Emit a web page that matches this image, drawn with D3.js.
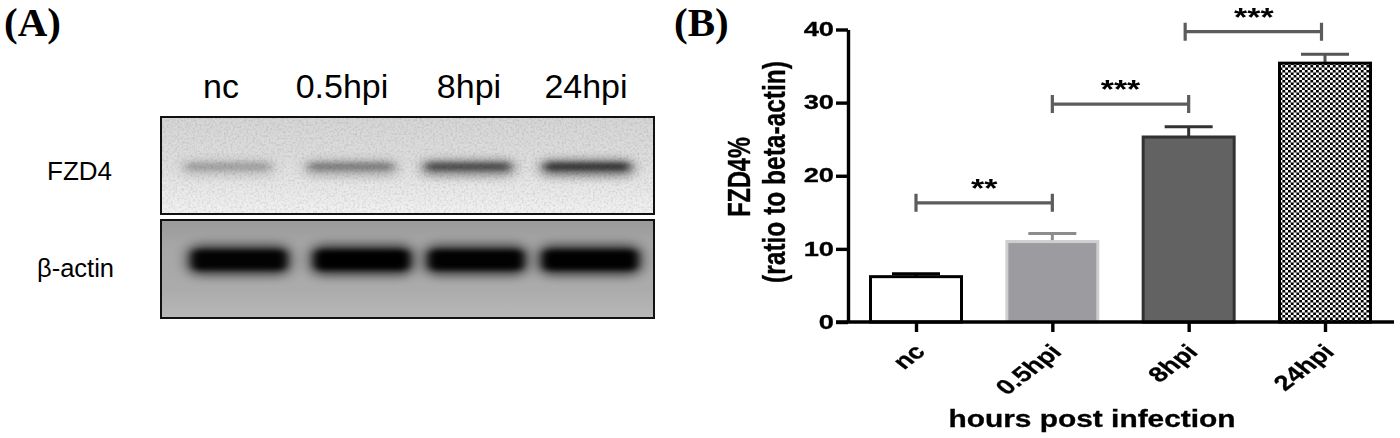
<!DOCTYPE html>
<html lang="en">
<head>
<meta charset="utf-8">
<title>FZD4 western blot and quantification</title>
<style>
  html,body { margin:0; padding:0; overflow:hidden; background:#fff; }
  svg { display:block; }
  text { font-family:"Liberation Sans",Arial,sans-serif; fill:#000; }
  .panel-tag { font-family:"Liberation Serif",serif; font-weight:bold; font-size:41px; }
  .heavy, .axis text { font-weight:bold; stroke:#000; stroke-width:0.3px; }
  .axis path, .axis line { stroke:#000; stroke-width:3.4px; }
</style>
<script src="https://d3js.org/d3.v7.min.js"></script>
</head>
<body>
<svg width="1400" height="438"></svg>
<script>
// data
const lanes = ["nc", "0.5hpi", "8hpi", "24hpi"];
const fzd4Band = [0.26, 0.42, 0.72, 0.88];   // band darkness, upper blot
const actinBand = [0.95, 1, 0.97, 0.98];     // band darkness, lower blot

const means = [6.2, 11.0, 25.3, 35.4];
const errors = [0.4, 1.1, 1.4, 1.2];
const yTicks = [0, 10, 20, 30, 40];
const brackets = [
  { from: 0, to: 1, level: 16.3, label: "**" },
  { from: 1, to: 2, level: 29.8, label: "***" },
  { from: 2, to: 3, level: 39.7, label: "***" }
];

const svg = d3.select("svg");
const defs = svg.append("defs");

// panel B in the figure is stretched sideways, so its text is too
const stretch = 1.3;

// ---- filters, gradients, pattern
function blur(id, sd) {
  defs.append("filter").attr("id", id)
      .attr("x", "-30%").attr("y", "-100%").attr("width", "160%").attr("height", "300%")
    .append("feGaussianBlur").attr("stdDeviation", sd);
}
blur("soft", "7 5");
blur("tight", "4 2.4");

defs.append("filter").attr("id", "aa")
    .attr("filterUnits", "userSpaceOnUse")
    .attr("x", 0).attr("y", 0).attr("width", 1400).attr("height", 438)
  .append("feGaussianBlur").attr("stdDeviation", 0.45);

const grain = defs.append("filter").attr("id", "grain")
    .attr("x", 0).attr("y", 0).attr("width", "100%").attr("height", "100%");
grain.append("feTurbulence").attr("type", "fractalNoise").attr("baseFrequency", 0.45)
    .attr("numOctaves", 2).attr("seed", 4);
grain.append("feColorMatrix").attr("type", "matrix")
    .attr("values", "0 0 0 0 0  0 0 0 0 0  0 0 0 0 0  1.2 0 0 0 -0.5");

function gradient(id, stops) {
  defs.append("linearGradient").attr("id", id)
      .attr("x1", 0).attr("y1", 0).attr("x2", 0).attr("y2", 1)
    .selectAll("stop").data(stops).join("stop")
      .attr("offset", d => d[0]).attr("stop-color", d => d[1]);
}
gradient("topBg", [[0, "#d6d6d6"], [0.45, "#dedede"], [1, "#f2f2f2"]]);
gradient("lowBg", [[0, "#999999"], [0.25, "#a6a6a6"], [0.7, "#ababab"], [1, "#b8b8b8"]]);

const checker = defs.append("pattern").attr("id", "checker")
    .attr("width", 5.6).attr("height", 5).attr("patternUnits", "userSpaceOnUse");
checker.append("rect").attr("width", 5.6).attr("height", 5).attr("fill", "#fff");
checker.append("rect").attr("width", 2.8).attr("height", 2.5).attr("fill", "#000");
checker.append("rect").attr("x", 2.8).attr("y", 2.5).attr("width", 2.8).attr("height", 2.5).attr("fill", "#000");

// ---- panel tags
svg.append("text").attr("class", "panel-tag").attr("x", 4).attr("y", 36).text("(A)");
svg.append("text").attr("class", "panel-tag").attr("x", 674).attr("y", 36).text("(B)");

// ---- panel A, blots
const headerX = d3.scaleOrdinal().domain(lanes).range([221, 342, 469, 586]);
const topX = d3.scaleOrdinal().domain(lanes).range([228, 351, 468, 587]);
const lowX = d3.scaleOrdinal().domain(lanes).range([239, 362, 476, 590]);

svg.append("g").selectAll("text").data(lanes).join("text")
    .attr("x", d => headerX(d)).attr("y", 98)
    .attr("text-anchor", "middle").attr("font-size", 34).text(d => d);

svg.append("text").attr("x", 47).attr("y", 180).attr("font-size", 26).text("FZD4");
svg.append("text").attr("x", 37).attr("y", 277).attr("font-size", 25.5).text("β-actin");

const blotLeft = 161, blotWidth = 493;

// upper blot
const topClip = defs.append("clipPath").attr("id", "topClip");
topClip.append("rect").attr("x", blotLeft).attr("y", 117).attr("width", blotWidth).attr("height", 97);
const upper = svg.append("g").attr("clip-path", "url(#topClip)");
upper.append("rect").attr("x", blotLeft).attr("y", 117).attr("width", blotWidth).attr("height", 97)
    .attr("fill", "url(#topBg)");
upper.append("g").selectAll("rect").data(lanes).join("rect")
    .attr("x", d => topX(d) - 46).attr("y", 160)
    .attr("width", 92).attr("height", 16).attr("rx", 7)
    .attr("fill", "#000")
    .attr("opacity", (d, i) => fzd4Band[i] * 0.55)
    .attr("filter", "url(#soft)");
upper.append("g").selectAll("rect").data(lanes).join("rect")
    .attr("x", d => topX(d) - 42).attr("y", 163)
    .attr("width", 84).attr("height", 7).attr("rx", 3)
    .attr("fill", "#000")
    .attr("opacity", (d, i) => fzd4Band[i] * 0.65)
    .attr("filter", "url(#tight)");
upper.append("rect").attr("x", blotLeft).attr("y", 117).attr("width", blotWidth).attr("height", 97)
    .attr("filter", "url(#grain)").attr("opacity", 0.2);
svg.append("rect").attr("x", blotLeft).attr("y", 117).attr("width", blotWidth).attr("height", 97)
    .attr("fill", "none").attr("stroke", "#111").attr("stroke-width", 2);

// lower blot
const lowClip = defs.append("clipPath").attr("id", "lowClip");
lowClip.append("rect").attr("x", blotLeft).attr("y", 220).attr("width", blotWidth).attr("height", 98);
const lower = svg.append("g").attr("clip-path", "url(#lowClip)");
lower.append("rect").attr("x", blotLeft).attr("y", 220).attr("width", blotWidth).attr("height", 98)
    .attr("fill", "url(#lowBg)");
lower.append("g").selectAll("rect").data(lanes).join("rect")
    .attr("x", d => lowX(d) - 52).attr("y", 244)
    .attr("width", 104).attr("height", 32).attr("rx", 12)
    .attr("fill", "#000")
    .attr("opacity", (d, i) => actinBand[i] * 0.6)
    .attr("filter", "url(#soft)");
lower.append("g").selectAll("rect").data(lanes).join("rect")
    .attr("x", d => lowX(d) - 47).attr("y", 250)
    .attr("width", 94).attr("height", 20).attr("rx", 6)
    .attr("fill", "#000")
    .attr("opacity", (d, i) => actinBand[i])
    .attr("filter", "url(#tight)");
svg.append("rect").attr("x", blotLeft).attr("y", 220).attr("width", blotWidth).attr("height", 98)
    .attr("fill", "none").attr("stroke", "#111").attr("stroke-width", 2);

// ---- panel B, bars
const y = d3.scaleLinear().domain([0, 40]).range([322, 29.5]);
const x = d3.scalePoint().domain(lanes).range([916, 1325]);
const barWidth = 91;

const barStyles = [
  { fill: "#fff", stroke: "#000", err: "#000" },
  { fill: "#9c9b9f", stroke: "#cfcfcf", err: "#8c8c8c" },
  { fill: "#626262", stroke: "#333", err: "#333" },
  { fill: "url(#checker)", stroke: "#000", err: "#555" }
];

const chart = svg.append("g").attr("filter", "url(#aa)");

// error bars go under the bars
chart.append("g").selectAll("path").data(lanes).join("path")
    .attr("fill", "none").attr("stroke-width", 3)
    .attr("stroke", (d, i) => barStyles[i].err)
    .attr("d", (d, i) => {
      const top = y(means[i] + errors[i]);
      return `M${x(d)},${y(means[i])}V${top}M${x(d) - 24},${top}H${x(d) + 24}`;
    });

chart.append("g").selectAll("rect").data(lanes).join("rect")
    .attr("x", d => x(d) - barWidth / 2)
    .attr("y", (d, i) => y(means[i]))
    .attr("width", barWidth)
    .attr("height", (d, i) => y(0) - y(means[i]))
    .attr("fill", (d, i) => barStyles[i].fill)
    .attr("stroke", (d, i) => barStyles[i].stroke)
    .attr("stroke-width", 3);

// axes
const yAxis = chart.append("g").attr("class", "axis")
    .attr("transform", "translate(848,0)")
    .call(d3.axisLeft(y).tickValues(yTicks).tickSize(12).tickSizeOuter(0));
yAxis.selectAll("text")
    .attr("font-size", 21)
    .attr("x", 0)
    .attr("transform", `translate(-14,-0.5) scale(${stretch},1)`);

const xAxis = chart.append("g").attr("class", "axis")
    .attr("transform", "translate(0,322)")
    .call(d3.axisBottom(x).tickSize(10).tickSizeOuter(0));
xAxis.select(".domain").attr("d", "M836,0H1394");
xAxis.selectAll("text")
    .attr("font-size", 21)
    .attr("text-anchor", "end")
    .attr("dy", 0)
    .attr("y", 0).attr("x", 0)
    .attr("transform", `translate(10,31) scale(${stretch},1) rotate(-45)`);

// significance brackets
const bracket = chart.append("g").selectAll("g").data(brackets).join("g");
bracket.append("path")
    .attr("fill", "none").attr("stroke", "#5c5c5c").attr("stroke-width", 3.2)
    .attr("d", d => {
      const shift = d.from === 2 ? -3.5 : 0;
      const a = x(lanes[d.from]) + shift, b = x(lanes[d.to]) + shift, l = y(d.level);
      return `M${a},${l - 9}V${l + 9}M${a},${l}H${b}M${b},${l - 9}V${l + 9}`;
    });
bracket.append("text")
    .attr("transform", d => {
      const mid = (x(lanes[d.from]) + x(lanes[d.to])) / 2 - (d.from === 2 ? 3 : 0);
      return `translate(${mid},${y(d.level) - 6}) scale(${stretch},1)`;
    })
    .attr("text-anchor", "middle")
    .attr("font-size", 26).attr("font-weight", "bold")
    .text(d => d.label);

// axis titles
chart.append("text").attr("class", "heavy")
    .attr("transform", `translate(1092,427) scale(${stretch},1)`)
    .attr("text-anchor", "middle").attr("font-size", 23)
    .text("hours post infection");
chart.append("text").attr("class", "heavy")
    .attr("transform", `translate(750,177) scale(${stretch},1) rotate(-90)`)
    .attr("text-anchor", "middle").attr("font-size", 23.5)
    .text("FZD4%");
chart.append("text").attr("class", "heavy")
    .attr("transform", `translate(785,172) scale(${stretch},1) rotate(-90)`)
    .attr("text-anchor", "middle").attr("font-size", 24.5)
    .attr("font-weight", "normal")
    .text("(ratio to beta-actin)");
</script>
</body>
</html>
